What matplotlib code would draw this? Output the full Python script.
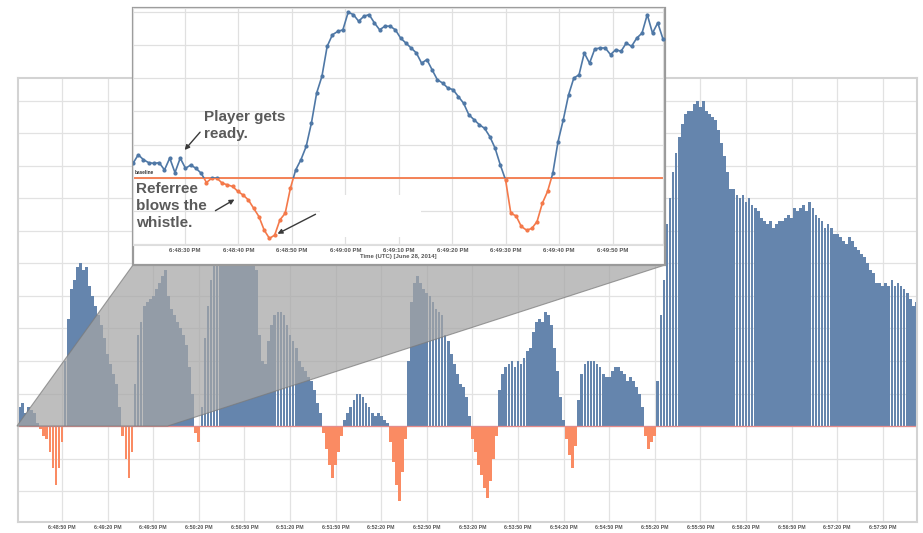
import datetime as dt
import numpy as np
import matplotlib
matplotlib.use("Agg")
import matplotlib.pyplot as plt
from matplotlib.patches import Rectangle, Polygon

plt.rcParams['font.family'] = ['Liberation Sans', 'DejaVu Sans']

# main chart: one bar every 2 s, seconds after 6:48:20 PM, units above baseline
main_vals = [
    6, 7, 4, 6, 5, 4, 1, -1, -3, -4,
    -8, -13, -18, -13, -5, 20, 33, 42, 45, 49,
    50, 48, 49, 43, 40, 37, 34, 31, 27, 22,
    19, 16, 13, 6, -3, -10, -16, -8, 13, 28,
    32, 37, 38, 39, 40, 42, 44, 46, 48, 40,
    36, 34, 32, 30, 28, 25, 18, 10, -2, -5,
    6, 27, 37, 45, 52, 56, 58, 60, 61, 62,
    62, 63, 61, 62, 60, 58, 56, 53, 48, 28,
    20, 19, 26, 31, 34, 35, 35, 34, 31, 28,
    26, 24, 20, 18, 17, 15, 14, 11, 7, 4,
    -2, -7, -12, -16, -12, -8, -3, 2, 4, 6,
    8, 10, 10, 9, 7, 6, 4, 3, 4, 3,
    2, 1, -5, -11, -18, -23, -14, -4, 20, 38,
    44, 46, 44, 42, 41, 40, 38, 36, 35, 34,
    28, 26, 22, 19, 16, 13, 12, 9, 3, -4,
    -8, -12, -15, -19, -22, -17, -10, -3, 11, 16,
    18, 19, 20, 18, 20, 19, 21, 23, 24, 29,
    32, 33, 32, 35, 34, 31, 24, 17, 9, 2,
    -4, -9, -13, -6, 8, 16, 19, 20, 20, 20,
    19, 18, 16, 15, 15, 17, 18, 18, 17, 16,
    14, 15, 14, 12, 10, 6, -3, -7, -5, -3,
    14, 34, 45, 62, 70, 78, 84, 89, 93, 96,
    97, 97, 99, 100, 98, 100, 97, 96, 95, 94,
    91, 87, 83, 78, 73, 73, 71, 70, 71, 69,
    70, 68, 67, 66, 64, 63, 62, 63, 61, 62,
    63, 63, 64, 65, 64, 67, 66, 67, 68, 66,
    69, 67, 65, 64, 63, 61, 62, 61, 59, 59,
    58, 57, 56, 58, 57, 55, 54, 53, 52, 50,
    48, 47, 44, 44, 43, 44, 43, 45, 43, 44,
    43, 42, 41, 39, 37, 38,
]
main_t = np.arange(2, 2 * len(main_vals) + 1, 2)

# zoomed inset: about one point per second over the first 100 s
inset_vals = [
    4.3, 6.9, 5.4, 4.5, 4.3, 4.5, 2.3, 5.9, 1.5, 5.9,
    2.8, 3.8, 2.8, 1.3, -1.5, -0.2, -0.2, -1.7, -2.2, -2.7,
    -4.2, -5.3, -6.8, -9.3, -11.8, -15.9, -18.4, -17.4, -12.8, -10.8,
    -3.2, 2.3, 5.4, 9.4, 16.5, 25.6, 30.6, 39.7, 43.2, 44.2,
    44.7, 50.0, 49.3, 47.3, 48.8, 49.3, 46.8, 44.7, 45.8, 45.8,
    44.7, 42.2, 40.7, 39.2, 37.7, 34.6, 35.7, 32.6, 29.6, 28.6,
    27.1, 26.6, 24.5, 22.5, 19.0, 17.5, 16.0, 14.9, 12.4, 8.9,
    3.8, -0.7, -10.8, -11.6, -14.8, -15.9, -15.4, -13.3, -7.8, -4.2,
    1.3, 10.9, 17.5, 25.0, 30.1, 31.1, 37.7, 34.6, 38.9, 39.2,
    39.2, 37.2, 38.7, 38.2, 40.7, 39.7, 42.2, 43.7, 49.3, 43.7,
    46.8, 41.9,
]
inset_lim = (0.3, 99.4)
inset_t = np.linspace(inset_lim[0], inset_lim[1], len(inset_vals))

start = dt.datetime(2014, 6, 28, 18, 48, 20)


def fmt(sec):
    d = start + dt.timedelta(seconds=int(sec))
    return f"{d.hour - 12}:{d.minute:02d}:{d.second:02d} PM"


BLUE = '#6585ad'
ORANGE = '#fa8b63'
W, H = 923, 533

fig = plt.figure(figsize=(9.23, 5.33), dpi=100)

# ---- main bar chart
ax = fig.add_axes([18 / W, 11 / H, 899 / W, 444 / H])
cols = [BLUE if v >= 0 else ORANGE for v in main_vals]
ax.bar(main_t, main_vals, width=1.82, color=cols, linewidth=0)
ax.axhline(0, color='#e58b8b', lw=0.9)
ax.set_xlim(1, 592.5)
ax.set_ylim(-29.5, 107)
mt = list(range(30, 571, 30))
ax.set_xticks(mt)
ax.set_xticklabels([fmt(s) for s in mt], fontsize=3.8, fontweight='bold', color='#555555')
ax.set_yticks(range(-20, 101, 10))
ax.set_yticklabels([])
ax.tick_params(length=0, pad=2)
ax.grid(True, color='#e2e2e2', lw=0.9)
ax.set_axisbelow(True)
for s in ax.spines.values():
    s.set_color('#d3d3d3')
    s.set_linewidth(1.5)

# ---- zoom connector
fig.canvas.draw()
to_fig = fig.transFigure.inverted()
p_left = to_fig.transform(ax.transData.transform((inset_lim[0], 0)))
p_right = to_fig.transform(ax.transData.transform((inset_lim[1], 0)))
box_l, box_r, box_b, box_t = 133 / W, 665 / W, (H - 265) / H, (H - 8) / H
poly = Polygon([(box_l, box_b), (box_r, box_b), tuple(p_right), tuple(p_left)],
               closed=True, transform=fig.transFigure, facecolor='#a6a6a6',
               alpha=0.72, edgecolor='#7a7a7a', lw=0.8, zorder=2)
fig.add_artist(poly)

# ---- inset frame
fig.add_artist(Rectangle((box_l, box_b), box_r - box_l, box_t - box_b,
                         transform=fig.transFigure, facecolor='white',
                         edgecolor='#9a9a9a', lw=1.6, zorder=3))

axi = fig.add_axes([133 / W, (H - 245) / H, 530 / W, 237 / H])
axi.set_zorder(4)
axi.set_xlim(*inset_lim)
axi.set_ylim(-20.4, 51.3)
it = list(range(10, 91, 10))
axi.set_xticks(it)
axi.set_xticklabels([fmt(s) for s in it], fontsize=4.3, fontweight='bold', color='#555555')
axi.set_yticks(range(-20, 51, 10))
axi.set_yticklabels([])
axi.tick_params(length=0, pad=2)
axi.grid(True, color='#e0e0e0', lw=0.9)
axi.set_axisbelow(True)
axi.set_xlabel('Time (UTC) [June 28, 2014]', fontsize=4.3, fontweight='bold',
               color='#555555', labelpad=1)
for s in axi.spines.values():
    s.set_color('#dddddd')

axi.axhline(0, color='#f4794a', lw=1.3, zorder=2)
up, = axi.plot(inset_t, inset_vals, color='#4f78a6', lw=1.2, marker='o', ms=2.0, zorder=3)
dn, = axi.plot(inset_t, inset_vals, color='#f4794a', lw=1.2, marker='o', ms=2.0, zorder=3)
clip_up = Rectangle((inset_lim[0], 0), 200, 100, transform=axi.transData)
clip_dn = Rectangle((inset_lim[0], -100), 200, 100, transform=axi.transData)
up.set_clip_path(clip_up)
dn.set_clip_path(clip_dn)
axi.text(0.004, 0.295, 'baseline', transform=axi.transAxes, fontsize=3.4,
         fontweight='bold', color='#333333', va='bottom')

# erased label box
axi.add_patch(Rectangle((0.353, 0.034), 0.19, 0.177, transform=axi.transAxes,
                        facecolor='white', edgecolor='none', zorder=5))

txt = dict(fontsize=11, color='#5a5a5a', fontweight='bold', linespacing=1.25,
           va='top', ha='left', transform=axi.transAxes, zorder=6)
axi.text(0.134, 0.57, 'Player gets\nready.', **txt)
axi.text(0.006, 0.265, 'Referree\nblows the\nwhistle.', **txt)

arr = dict(arrowstyle='-|>', color='#3a3a3a', lw=1.0, mutation_scale=7)
axi.annotate('', xy=(0.094, 0.392), xytext=(0.13, 0.485), xycoords='axes fraction',
             arrowprops=arr, zorder=6)
axi.annotate('', xy=(0.196, 0.198), xytext=(0.151, 0.139), xycoords='axes fraction',
             arrowprops=arr, zorder=6)
axi.annotate('', xy=(0.268, 0.042), xytext=(0.349, 0.135), xycoords='axes fraction',
             arrowprops=arr, zorder=6)

fig.savefig('out.png', dpi=100)
